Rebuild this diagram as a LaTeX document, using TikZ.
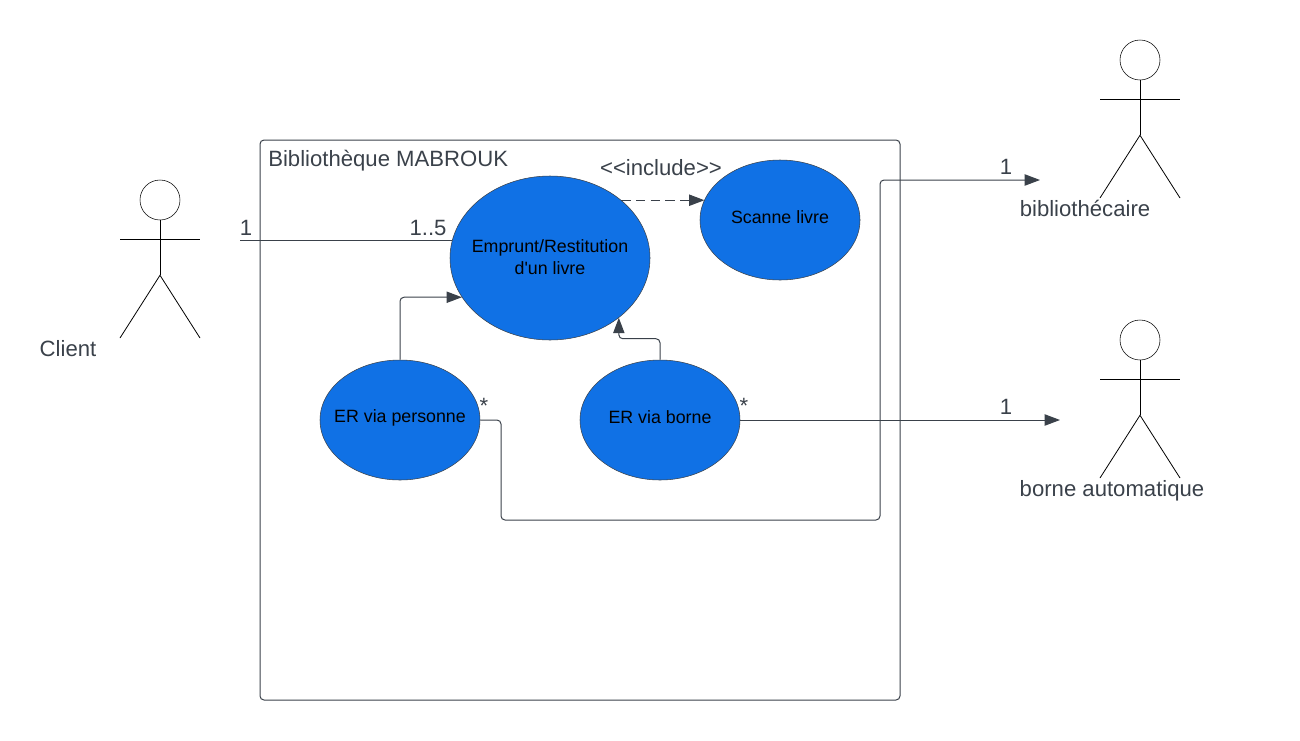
\documentclass[tikz,border=0pt]{standalone}
\usepackage{fontspec}
\setmainfont{Liberation Sans}
\usepackage{xcolor}
\usetikzlibrary{arrows.meta,positioning,calc,shapes.geometric}
\definecolor{linegray}{HTML}{3A414A}
\definecolor{caseblue}{HTML}{1071E5}

\begin{document}
\begin{tikzpicture}[
  x=0.75pt, y=-0.75pt,
  every node/.style={font=\fontsize{16.6pt}{20pt}\selectfont, text=linegray, inner sep=0pt},
  usecase/.style={ellipse, draw=linegray, fill=caseblue, minimum width=120pt, minimum height=90pt},
  casetext/.style={text=black, align=center, font=\fontsize{13.35pt}{16.2pt}\selectfont},
  head/.style={circle, draw=black, minimum size=30pt},
  stick/.style={black, line width=0.6pt},
  arr/.style={-{Stealth[length=11.5pt,width=8.5pt,inset=0pt]}, line width=0.75pt, linegray},
  link/.style={line width=0.75pt, linegray}
]
\useasboundingbox (0,0) rectangle (1300,740);

% system box
\node[draw=linegray, line width=0.75pt, rounded corners=3pt, minimum width=480pt, minimum height=420pt] (sys) at (580,420) {};
\node[anchor=west] (title) at (268,161) {Bibliothèque MABROUK};

% actors
\foreach \who/\cx/\cy in {client/160/200, biblio/1140/60, borneauto/1140/340} {
  \node[head] (\who) at (\cx,\cy) {};
  \draw[stick] (\who.south) -- ++(0,55) coordinate (\who hip);
  \draw[stick] ($(\who)+(-40,39)$) -- ($(\who)+(40,39)$);
  \draw[stick] ($(\who)+(-40,138)$) -- (\who hip) -- ($(\who)+(40,138)$);
}
\node (clientname) at (68,349) {Client};
\node (biblioname) at (1085,208) {bibliothécaire};
\node (autoname) at (1112,491) {borne automatique};

% use cases
\node[usecase, minimum width=150pt, minimum height=123pt] (emprunt) at (550,258) {};
\node[casetext] (empruntname) at (550,257) {Emprunt/Restitution\\d\textquotesingle un livre};
\node[usecase] (scanne) at (780,220) {};
\node[casetext] (scannename) at (780,217) {Scanne livre};
\node[usecase] (personne) at (400,420) {};
\node[casetext] (personnename) at (400,418) {ER via personne};
\node[usecase] (borne) at (660,420) {};
\node[casetext] (bornename) at (660,417) {ER via borne};

% free ends
\coordinate (clientend) at (240,240);
\coordinate (bibend) at (1040,180);
\coordinate (autoend) at (1060,420);

% connectors
\draw[link] (clientend) -- (clientend -| emprunt.169);
\draw[arr, dashed, dash pattern=on 7pt off 4pt] (emprunt.39) -- (emprunt.39 -| scanne.165);
\draw[arr, rounded corners=3pt] (personne.north) |- (emprunt.204);
\draw[arr, rounded corners=3pt] (borne.north) -- ++(0,-21) -| (emprunt.-41);
\draw[arr, rounded corners=3pt] (personne.east) -- (501,420) -- (501,520) -- (880,520) -- (880,180) -- (bibend);
\draw[arr] (borne.east) -- (autoend);

% multiplicities
\node (one1) at (246,228) {1};
\node (many1) at (428,228) {1..5};
\node (incl) at (661,168) {<{}<include>{}>};
\node (one2) at (1006,167) {1};
\node (one3) at (1006,407) {1};
\node (star1) at (484,406) {*};
\node (star2) at (744,406) {*};
\end{tikzpicture}
\end{document}
